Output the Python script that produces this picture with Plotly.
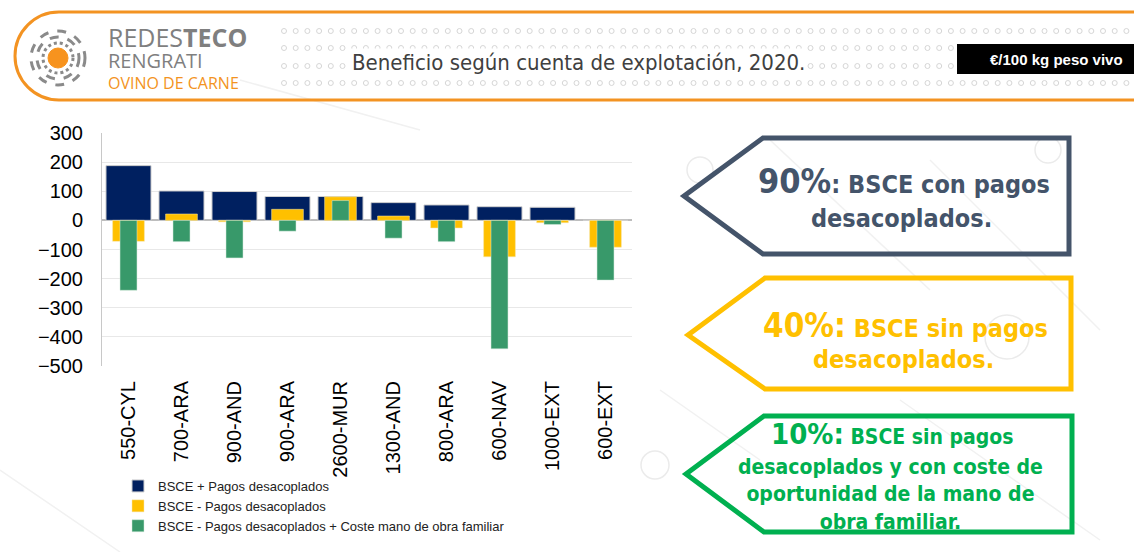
import plotly.graph_objects as go
import numpy as np

# ---------------- data ----------------
categories = ["550-CYL", "700-ARA", "900-AND", "900-ARA", "2600-MUR",
              "1300-AND", "800-ARA", "600-NAV", "1000-EXT", "600-EXT"]
bsce_con_pagos = [188, 101, 99, 82, 82, 61, 53, 47, 45, 0]
bsce_sin_pagos = [-72, 22, -5, 38, 81, 15, -26, -125, -8, -92]
bsce_sin_pagos_mo = [-240, -73, -129, -37, 68, -61, -73, -441, -14, -205]
series_names = ["BSCE + Pagos desacoplados",
                "BSCE - Pagos desacoplados",
                "BSCE - Pagos desacoplados + Coste mano de obra familiar"]
y_ticks = [300, 200, 100, 0, -100, -200, -300, -400, -500]

W, H = 1134, 552
NAVY = "#002060"
YELLOW = "#FFC000"
GREEN = "#38996A"
SLATE = "#44546A"
GREEN_T = "#00B050"
ORANGE = "#F39322"

fig = go.Figure()

fig.add_trace(go.Bar(x=categories, y=bsce_con_pagos, name=series_names[0],
                     marker=dict(color=NAVY, line=dict(color="#D0D0D0", width=1)),
                     width=0.85))
fig.add_trace(go.Bar(x=categories, y=bsce_sin_pagos, name=series_names[1],
                     marker=dict(color=YELLOW, line=dict(color="#F5E6B0", width=0.5)),
                     width=0.6))
fig.add_trace(go.Bar(x=categories, y=bsce_sin_pagos_mo, name=series_names[2],
                     marker=dict(color=GREEN, line=dict(color="#D0E8DA", width=0.5)),
                     width=0.32))

# decorative dot pattern in header (pixel overlay axes)
dot_x = []
dot_y = []
for ry in [31, 48, 66, 83]:
    for cx in np.arange(284, 1134, 11.7):
        dot_x.append(cx)
        dot_y.append(ry)
fig.add_trace(go.Scatter(x=dot_x, y=dot_y, mode="markers", xaxis="x2", yaxis="y2",
                         marker=dict(symbol="circle-open", size=5, color="#D6D6D6",
                                     line=dict(width=1)),
                         showlegend=False, hoverinfo="skip"))

fig.update_layout(
    width=W, height=H,
    margin=dict(l=0, r=0, t=0, b=0, autoexpand=False),
    paper_bgcolor="white",
    plot_bgcolor="rgba(0,0,0,0)",
    barmode="overlay",
    font=dict(family="Liberation Sans, Arial, sans-serif", color="black"),
    xaxis=dict(domain=[102 / W, 632 / W], type="category",
               tickangle=-90, tickfont=dict(size=20), ticks="",
               showline=False, showgrid=False, ticklabelstandoff=10,
               anchor="y", automargin=False),
    yaxis=dict(domain=[1 - 366 / H, 1 - 133 / H], range=[-500, 300],
               tickvals=y_ticks, tickfont=dict(size=20), ticks="",
               showgrid=True, gridcolor="#E8E8E8", gridwidth=1,
               showline=True, linecolor="#C8C8C8", linewidth=1,
               zeroline=True, zerolinecolor="#BDBDBD", zerolinewidth=2,
               ticklabelstandoff=14, anchor="x", automargin=False),
    xaxis2=dict(domain=[0, 1], range=[0, W], visible=False, anchor="y2",
                fixedrange=True, automargin=False),
    yaxis2=dict(domain=[0, 1], range=[H, 0], visible=False, anchor="x2",
                fixedrange=True, automargin=False),
    legend=dict(x=118 / W, y=1 - 471 / H, xanchor="left", yanchor="top",
                font=dict(size=13, color="#222222"), bgcolor="rgba(0,0,0,0)",
                tracegroupgap=0, itemwidth=30),
    showlegend=True,
)

shapes = []
# faint background decorations
for (x0, y0, x1, y1) in [(770, 140, 930, 290), (930, 160, 1100, 330),
                          (660, 390, 760, 460), (900, 400, 1100, 540),
                          (0, 470, 120, 552), (240, 80, 420, 130)]:
    shapes.append(dict(type="line", xref="x2", yref="y2", x0=x0, y0=y0, x1=x1, y1=y1,
                       line=dict(color="#F1F1F1", width=1.5), layer="below"))
for (cx, cy, r) in [(700, 170, 13), (1048, 150, 13), (1007, 337, 22), (655, 465, 14)]:
    shapes.append(dict(type="circle", xref="x2", yref="y2", x0=cx - r, y0=cy - r,
                       x1=cx + r, y1=cy + r, line=dict(color="#EBEBEB", width=1.5),
                       layer="below"))

# header border with rounded left end
k = 0.5523 * 44
hdr = (f"M 1134,12 L 59,12 C {59 - k},12 15,{56 - k} 15,56 "
       f"C 15,{56 + k} {59 - k},100 59,100 L 1134,100")
shapes.append(dict(type="path", xref="x2", yref="y2", path=hdr,
                   line=dict(color=ORANGE, width=3)))

# logo
shapes.append(dict(type="circle", xref="x2", yref="y2", x0=48, y0=48, x1=68, y1=68,
                   fillcolor="#F7931E", line=dict(color="#F7931E", width=1)))
for r, d in [(15, "dot"), (21, "dash"), (27, "dash")]:
    shapes.append(dict(type="circle", xref="x2", yref="y2", x0=58 - r, y0=58 - r,
                       x1=58 + r, y1=58 + r,
                       line=dict(color="#8A8A8A", width=3, dash=d)))

# black unit box
shapes.append(dict(type="rect", xref="x2", yref="y2", x0=957, y0=44, x1=1134, y1=74,
                   fillcolor="black", line=dict(width=0)))

# arrow tags
def tag(tipx, tipy, lx, top, rx, bot, color):
    return dict(type="path", xref="x2", yref="y2",
                path=f"M {tipx},{tipy} L {lx},{top} L {rx},{top} L {rx},{bot} L {lx},{bot} Z",
                line=dict(color=color, width=5), fillcolor="rgba(255,255,255,0)")

shapes.append(tag(684, 196, 763, 138, 1069, 254, SLATE))
shapes.append(tag(688, 335, 765, 278, 1071, 389, YELLOW))
shapes.append(tag(686, 474, 764, 416, 1072, 532, GREEN_T))
fig.update_layout(shapes=shapes)

ann = []
def A(x, y, text, size, color, family, xanchor="left", bg=None, **kw):
    d = dict(xref="x2", yref="y2", x=x, y=y, text=text, showarrow=False,
             xanchor=xanchor, yanchor="middle",
             font=dict(size=size, color=color, family=family), **kw)
    if bg:
        d["bgcolor"] = bg
    ann.append(d)

OS = "Open Sans, sans-serif"
A(106, 57,
  "<span style='font-size:25px'>REDES<b>TECO</b></span><br>"
  "<span style='font-size:20px'>RENGRATI</span><br>"
  "<span style='font-size:16px;color:#F39322'>OVINO DE CARNE</span>",
  16, "#7F7F7F", OS, align="left")
A(350, 62, "Beneficio según cuenta de explotación, 2020.", 22, "#404040",
  "DejaVu Sans Condensed, DejaVu Sans, sans-serif", bg="white")
A(1056, 59, "<b>€/100 kg peso vivo</b>", 15, "white",
  "Liberation Sans Narrow, Liberation Sans, Arial, sans-serif", xanchor="center")

TB = "DejaVu Sans Condensed, DejaVu Sans, sans-serif"
A(904, 181, "<b><span style='font-size:34px'>90%</span>: BSCE con pagos</b>", 25, SLATE, TB, xanchor="center")
A(901, 218, "<b>desacoplados.</b>", 25, SLATE, TB, xanchor="center")
A(905, 325, "<b><span style='font-size:33px'>40%:</span> BSCE sin pagos</b>", 25, YELLOW, TB, xanchor="center")
A(903, 359, "<b>desacoplados.</b>", 25, YELLOW, TB, xanchor="center")
A(892, 434, "<b><span style='font-size:29px'>10%:</span> BSCE sin pagos</b>", 21, GREEN_T, TB, xanchor="center")
A(890, 494, "<b>desacoplados y con coste de<br>oportunidad de la mano de<br>obra familiar.</b>",
  21, GREEN_T, TB, xanchor="center")
fig.update_layout(annotations=ann)

fig.write_html("out.html", config={"displayModeBar": False},
               post_script="document.body.style.margin='0';document.body.style.overflow='hidden';")
